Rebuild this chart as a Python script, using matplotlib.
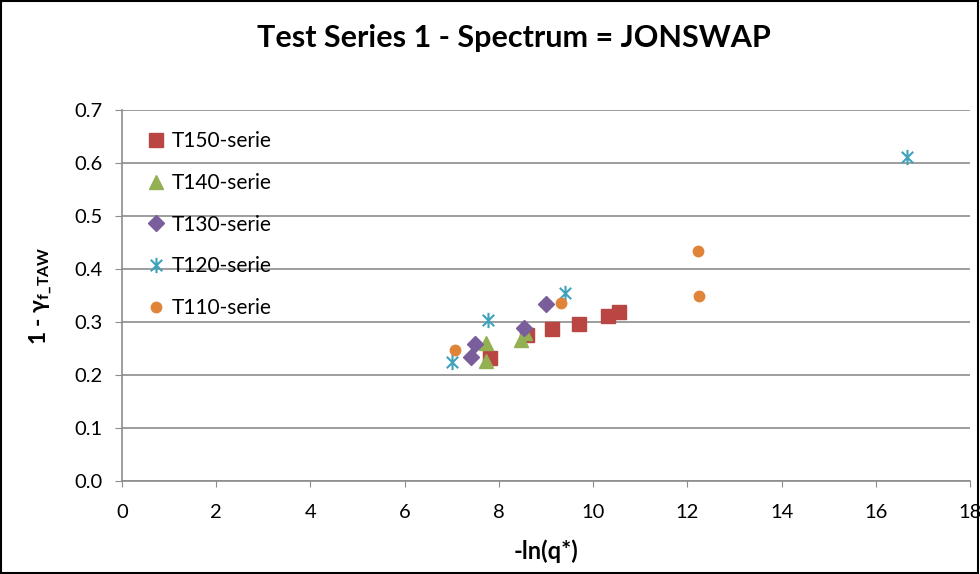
import matplotlib.pyplot as plt
from matplotlib.path import Path
from matplotlib.patches import Rectangle

# -ln(q*) vs 1 - gamma_f_TAW
t150_x = [7.81, 8.60, 9.13, 9.70, 10.32, 10.55]
t150_y = [0.232, 0.275, 0.287, 0.296, 0.311, 0.319]
t140_x = [7.73, 7.73, 8.47, 8.55]
t140_y = [0.226, 0.260, 0.266, 0.280]
t130_x = [7.41, 7.49, 8.53, 9.00]
t130_y = [0.234, 0.258, 0.289, 0.334]
t120_x = [7.00, 7.77, 9.41, 16.67]
t120_y = [0.225, 0.304, 0.355, 0.611]
t110_x = [7.07, 9.32, 12.23, 12.25]
t110_y = [0.247, 0.335, 0.434, 0.349]

labels = ["T150-serie", "T140-serie", "T130-serie", "T120-serie", "T110-serie"]

# asterisk like Excel: vertical stroke plus an X
star = Path([(0, -1), (0, 1), (-0.75, -0.75), (0.75, 0.75), (-0.75, 0.75), (0.75, -0.75)],
            [Path.MOVETO, Path.LINETO, Path.MOVETO, Path.LINETO, Path.MOVETO, Path.LINETO])

plt.rcParams["font.family"] = ["Lato", "DejaVu Sans"]
plt.rcParams["mathtext.fontset"] = "custom"
plt.rcParams["mathtext.rm"] = "Lato:bold"
plt.rcParams["mathtext.bf"] = "Lato:bold"

fig = plt.figure(figsize=(9.8, 5.74), dpi=100)
ax = fig.add_axes([122 / 980, 93 / 574, 848 / 980, 371 / 574])

ax.plot(t150_x, t150_y, "s", ms=10, color="#B94643", ls="none", label=labels[0])
ax.plot(t140_x, t140_y, "^", ms=10, color="#93B153", ls="none", label=labels[1])
ax.plot(t130_x, t130_y, "D", ms=8, color="#7A5E9C", ls="none", label=labels[2])
ax.plot(t120_x, t120_y, marker=star, ms=11, color="#3FA2BC", mew=1.5, ls="none", label=labels[3])
ax.plot(t110_x, t110_y, "o", ms=7.5, color="#E0843A", ls="none", label=labels[4])

ax.set_xlim(0, 18)
ax.set_ylim(0, 0.7)
ax.set_xticks(range(0, 19, 2))
ax.set_yticks([i / 10 for i in range(8)])
ax.set_yticklabels([f"{i / 10:.1f}" for i in range(8)])
ax.yaxis.grid(True, color="#8C8C8C", lw=1.2)
ax.set_axisbelow(True)
for s in ["top", "right"]:
    ax.spines[s].set_visible(False)
for s in ["left", "bottom"]:
    ax.spines[s].set_color("#8C8C8C")
    ax.spines[s].set_linewidth(1.2)
ax.tick_params(axis="x", direction="out", length=4.5, color="#8C8C8C", labelsize=14.5, pad=12)
ax.tick_params(axis="y", direction="out", length=5, color="#8C8C8C", labelsize=14.5, pad=9)

ax.set_xlabel("-ln(q*)", fontsize=17, fontweight="bold", labelpad=13)
ax.set_ylabel(r"1 - γ$_{\mathrm{f\_TAW}}$", fontsize=16.5, fontweight="bold", labelpad=14)
fig.text(0.5245, 1 - 38 / 574, "Test Series 1 - Spectrum = JONSWAP", fontsize=22,
         fontweight="bold", ha="center", va="center")

ax.legend(loc="upper left", bbox_to_anchor=(0.013, 0.965), frameon=False, fontsize=15,
          handletextpad=0.05, labelspacing=1.04, handlelength=1.4, numpoints=1,
          borderaxespad=0)

fig.patches.append(Rectangle((0.001, 0.001), 0.997, 0.997, transform=fig.transFigure,
                             fill=False, edgecolor="black", lw=1.5))

fig.savefig("out.png", dpi=100)
